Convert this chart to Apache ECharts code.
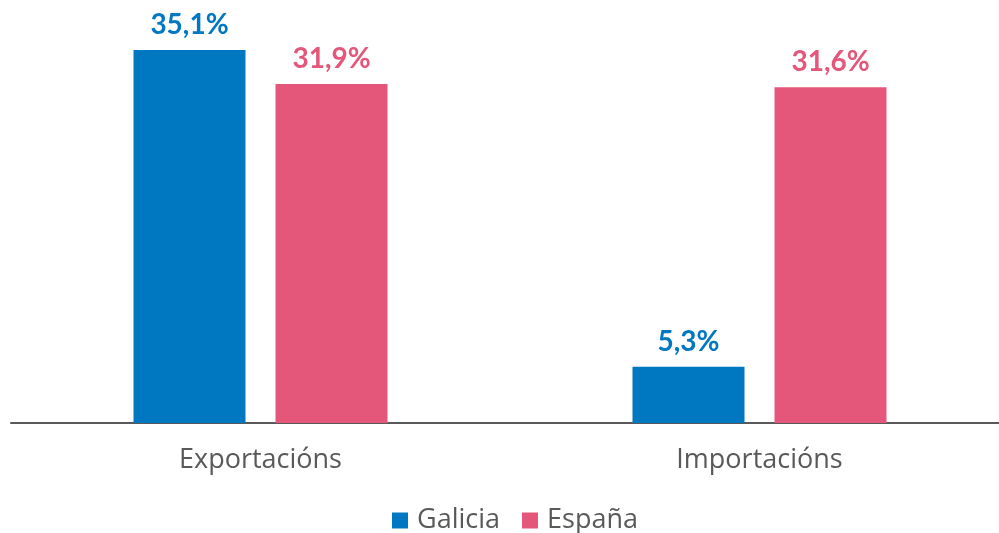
<!DOCTYPE html>
<html>
<head>
<meta charset="utf-8">
<script src="https://cdn.jsdelivr.net/npm/echarts@6/dist/echarts.min.js"></script>
<style>
  html, body { margin: 0; padding: 0; background: #fff; }
  #chart { width: 999px; height: 533px; }
</style>
</head>
<body>
<div id="chart"></div>
<script>
// categorías e valores (%)
var categories = ['Exportacións', 'Importacións'];
var galicia = [35.1, 5.3];
var espana = [31.9, 31.6];
var seriesNames = ['Galicia', 'España'];

var chart = echarts.init(document.getElementById('chart'));

function labelFmt(p) {
    return p.value.toFixed(1).replace('.', ',') + '%';
}

var option = {
    animation: false,
    grid: { left: 11, width: 998, top: 50, bottom: 110, containLabel: false, outerBoundsMode: 'none' },
    legend: {
        data: seriesNames,
        top: 502,
        left: 387,
        itemWidth: 16,
        itemHeight: 16,
        itemGap: 22,
        icon: 'rect',
        textStyle: { fontFamily: 'Open Sans', fontSize: 27, color: '#595959', padding: [0, 0, 0, 4] }
    },
    xAxis: {
        type: 'category',
        data: categories,
        axisLine: { lineStyle: { color: '#595959', width: 2 } },
        axisTick: { show: false },
        axisLabel: { fontFamily: 'Open Sans', fontSize: 27, color: '#595959', margin: 24 }
    },
    yAxis: {
        type: 'value',
        min: 0,
        max: 35.1,
        show: false,
        splitLine: { show: false }
    },
    series: [{
        name: seriesNames[0],
        type: 'bar',
        data: galicia,
        barWidth: 112,
        barGap: '26.8%',
        itemStyle: { color: '#0078C1' },
        label: {
            show: true, position: 'top', distance: 11,
            formatter: labelFmt,
            fontFamily: 'Lato', fontWeight: 'bold', fontSize: 28, color: '#0078C1'
        }
    }, {
        name: seriesNames[1],
        type: 'bar',
        data: espana,
        barWidth: 112,
        itemStyle: { color: '#E4567A' },
        label: {
            show: true, position: 'top', distance: 11,
            formatter: labelFmt,
            fontFamily: 'Lato', fontWeight: 'bold', fontSize: 28, color: '#E4567A'
        }
    }]
};
chart.setOption(option);
</script>
</body>
</html>
